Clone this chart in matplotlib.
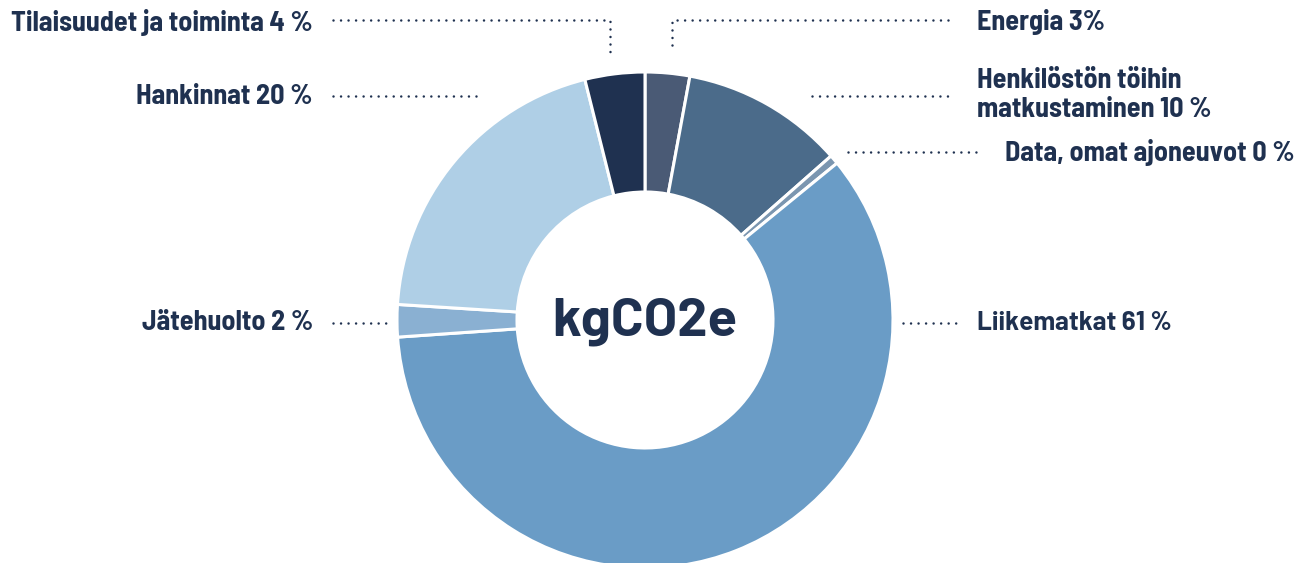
import matplotlib
matplotlib.use("Agg")
import matplotlib.pyplot as plt
from matplotlib import font_manager as fm

categories = ["Energia", "Henkilöstön töihin matkustaminen", "Data, omat ajoneuvot",
              "Liikematkat", "Jätehuolto", "Hankinnat", "Tilaisuudet ja toiminta"]
values = [2.9, 10.6, 0.6, 59.8, 2.1, 20.1, 3.9]
labels = ["Energia 3%", "Henkilöstön töihin\nmatkustaminen 10 %", "Data, omat ajoneuvot 0 %",
          "Liikematkat 61 %", "Jätehuolto 2 %", "Hankinnat 20 %", "Tilaisuudet ja toiminta 4 %"]
colors = ["#4a5a75", "#4b6b8a", "#7b96b0", "#6a9cc6", "#8ab0d2", "#afcfe6", "#1f3150"]
center_text = "kgCO2e"

fontlist = fm.fontManager.ttflist
names = {f.name for f in fontlist}
bold_names = {f.name for f in fontlist if (isinstance(f.weight, int) and f.weight >= 700) or f.weight == "bold"}

def pick(cands, need_bold=False):
    pool = bold_names if need_bold else names
    for c in cands:
        if c in pool:
            return c
    return "DejaVu Sans"

narrow = pick(["Barlow Semi Condensed", "Roboto Condensed", "IBM Plex Sans Condensed", "Open Sans Condensed"])
wide = pick(["Barlow", "Roboto", "Lato"], need_bold=True)

W, H = 1301, 563
fig = plt.figure(figsize=(W / 100, H / 100), dpi=100)
ax = fig.add_axes([0, 0, 1, 1])

cx, cy = 645, H - 320
R = 248
ax.pie(values, colors=colors, startangle=90, counterclock=False, center=(cx, cy),
       radius=R, wedgeprops=dict(width=120, edgecolor="white", linewidth=2.2), frame=True)
ax.set_xlim(0, W)
ax.set_ylim(0, H)
ax.set_aspect("equal")
ax.axis("off")

txt = "#1f3150"

def Y(y):
    return H - y

dot = dict(color=txt, linewidth=1.8, linestyle=(0, (0.01, 3)), dash_capstyle="round")
ax.plot([333, 610, 610], [Y(20), Y(20), Y(52)], **dot)
ax.plot([948, 672, 672], [Y(20), Y(20), Y(52)], **dot)
ax.plot([333, 480], [Y(96), Y(96)], **dot)
ax.plot([812, 948], [Y(96), Y(96)], **dot)
ax.plot([848, 983], [Y(152), Y(152)], **dot)
ax.plot([333, 388], [Y(323), Y(323)], **dot)
ax.plot([903, 958], [Y(323), Y(323)], **dot)

lk = dict(fontsize=17, fontweight="bold", color=txt, family=narrow, va="center")
t_til = ax.text(313, Y(22), labels[6], ha="right", **lk)
t_han = ax.text(313, Y(96), labels[5], ha="right", **lk)
t_jat = ax.text(313, Y(323), labels[4], ha="right", **lk)
t_ene = ax.text(977, Y(22), labels[0], ha="left", **lk)
t_hen = ax.text(977, Y(95), labels[1], ha="left", linespacing=1.2, **lk)
t_dat = ax.text(1005, Y(152), labels[2], ha="left", **lk)
t_lii = ax.text(977, Y(323), labels[3], ha="left", fontsize=15, fontweight="bold",
                color=txt, family=wide, va="center")
t_kg = ax.text(cx, Y(322), center_text, ha="center", va="center", fontsize=40,
               fontweight="bold", color=txt, family=wide)

# fit font sizes to the widths seen in the reference
fig.canvas.draw()
r = fig.canvas.get_renderer()
def fit(ts, target):
    w = ts[0].get_window_extent(r).width
    s = ts[0].get_fontsize() * target / w
    for t in ts:
        t.set_fontsize(s)
fit([t_til, t_han, t_jat, t_ene, t_hen, t_dat], 303)
fit([t_lii], 195)
fit([t_kg], 185)

fig.savefig("out.png", dpi=100)
